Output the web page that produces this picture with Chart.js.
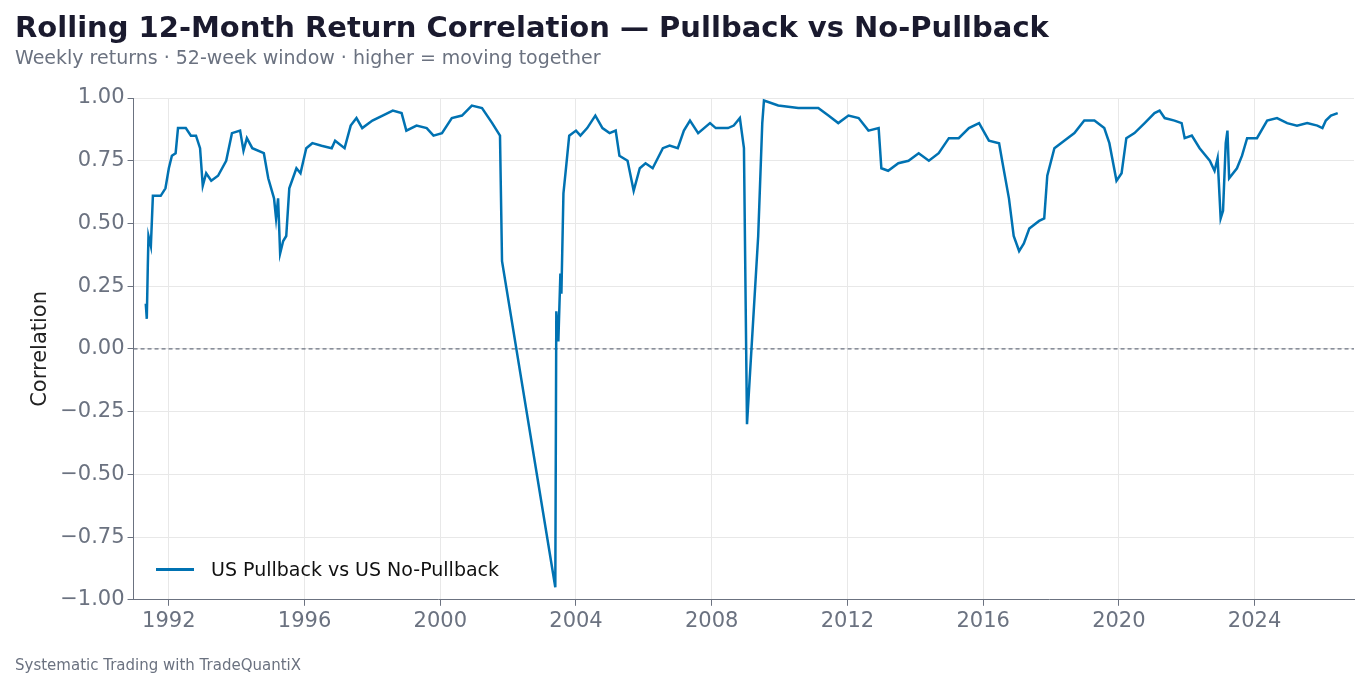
<!DOCTYPE html>
<html><head><meta charset="utf-8">
<script src="https://cdn.jsdelivr.net/npm/chart.js@4"></script>
<style>
body{margin:0;background:#fff;font-family:"DejaVu Sans",sans-serif;}
#wrap{position:relative;width:1368px;height:687px;}
#title{position:absolute;left:15px;top:10px;font-size:29px;font-weight:bold;color:#1a1a2e;}
#sub{position:absolute;left:15px;top:46px;font-size:19px;color:#6b7280;}
#foot{position:absolute;left:15px;top:656px;font-size:15px;color:#6b7280;}
#legend{position:absolute;left:156px;top:558px;font-size:19px;color:#111;display:flex;align-items:center;}
#legend span{display:inline-block;width:38px;height:3px;background:#0072B2;margin-right:17px;}
canvas{position:absolute;left:0;top:0;}
</style></head><body>
<div id="wrap">
<canvas id="c" width="1368" height="687"></canvas>
<div id="title">Rolling 12-Month Return Correlation — Pullback vs No-Pullback</div>
<div id="sub">Weekly returns · 52-week window · higher = moving together</div>
<div id="legend"><span></span>US Pullback vs US No-Pullback</div>
<div id="foot">Systematic Trading with TradeQuantiX</div>
</div>
<script>
/* global Chart */
const years = [1991.32,1991.35,1991.38,1991.4,1991.47,1991.53,1991.76,1991.9,1992.0,1992.09,1992.2,1992.27,1992.5,1992.65,1992.8,1992.92,1993.0,1993.1,1993.25,1993.45,1993.69,1993.86,1994.1,1994.2,1994.3,1994.46,1994.8,1994.93,1995.1,1995.16,1995.22,1995.28,1995.37,1995.46,1995.55,1995.76,1995.88,1996.05,1996.23,1996.5,1996.8,1996.9,1997.18,1997.36,1997.53,1997.7,1998.0,1998.3,1998.6,1998.86,1999.0,1999.3,1999.6,1999.8,2000.05,2000.34,2000.64,2000.93,2001.23,2001.53,2001.76,2001.82,2003.39,2003.42,2003.48,2003.54,2003.57,2003.63,2003.72,2003.8,2004.0,2004.13,2004.33,2004.57,2004.78,2004.99,2005.17,2005.28,2005.52,2005.7,2005.88,2006.05,2006.26,2006.56,2006.76,2007.0,2007.18,2007.36,2007.6,2007.95,2008.12,2008.48,2008.65,2008.83,2008.95,2009.04,2009.37,2009.49,2009.54,2009.96,2010.55,2011.14,2011.44,2011.73,2012.03,2012.33,2012.62,2012.92,2013.0,2013.2,2013.5,2013.8,2014.1,2014.4,2014.69,2014.99,2015.28,2015.58,2015.88,2016.17,2016.47,2016.56,2016.76,2016.9,2017.06,2017.2,2017.36,2017.65,2017.8,2017.89,2018.1,2018.39,2018.69,2018.98,2019.28,2019.57,2019.72,2019.93,2020.08,2020.22,2020.46,2020.76,2021.05,2021.2,2021.35,2021.64,2021.85,2021.94,2022.15,2022.38,2022.68,2022.82,2022.91,2023.0,2023.07,2023.15,2023.2,2023.25,2023.48,2023.63,2023.78,2024.07,2024.37,2024.66,2024.96,2025.25,2025.55,2025.85,2026.0,2026.1,2026.25,2026.45];
const corr = [0.18,0.12,0.33,0.45,0.41,0.61,0.61,0.64,0.72,0.77,0.78,0.88,0.88,0.85,0.85,0.80,0.65,0.70,0.67,0.69,0.75,0.86,0.87,0.79,0.84,0.80,0.78,0.68,0.60,0.52,0.60,0.38,0.43,0.45,0.64,0.72,0.70,0.80,0.82,0.81,0.80,0.83,0.80,0.89,0.92,0.88,0.91,0.93,0.95,0.94,0.87,0.89,0.88,0.85,0.86,0.92,0.93,0.97,0.96,0.90,0.85,0.35,-0.95,0.15,0.03,0.30,0.22,0.62,0.74,0.85,0.87,0.85,0.88,0.93,0.88,0.86,0.87,0.77,0.75,0.63,0.72,0.74,0.72,0.80,0.81,0.80,0.87,0.91,0.86,0.90,0.88,0.88,0.89,0.92,0.80,-0.30,0.45,0.90,0.99,0.97,0.96,0.96,0.93,0.90,0.93,0.92,0.87,0.88,0.72,0.71,0.74,0.75,0.78,0.75,0.78,0.84,0.84,0.88,0.90,0.83,0.82,0.75,0.60,0.45,0.39,0.42,0.48,0.51,0.52,0.69,0.80,0.83,0.86,0.91,0.91,0.88,0.82,0.67,0.70,0.84,0.86,0.90,0.94,0.95,0.92,0.91,0.90,0.84,0.85,0.80,0.75,0.71,0.76,0.52,0.55,0.82,0.87,0.68,0.72,0.77,0.84,0.84,0.91,0.92,0.90,0.89,0.90,0.89,0.88,0.91,0.93,0.94];
const xTicks = [1992,1996,2000,2004,2008,2012,2016,2020,2024];
const yTicks = [-1,-0.75,-0.5,-0.25,0,0.25,0.5,0.75,1];
const xMin = 1990.96, xMax = 2026.93;

new Chart("c", {
    type: 'line',
    data: {
        datasets: [{
            data: years.map((y, i) => ({x: y, y: corr[i]})),
            borderColor: '#0072B2',
            borderWidth: 2.5,
            pointRadius: 0,
            tension: 0
        }, {
            data: [{x: xMin, y: 0}, {x: xMax, y: 0}],
            borderColor: '#6b7280',
            borderWidth: 1.2,
            borderDash: [4, 3],
            pointRadius: 0
        }]
    },
    options: {
        responsive: false,
        animation: false,
        layout: {padding: {top: 98, left: 24, right: 14, bottom: 50}},
        plugins: {legend: {display: false}, tooltip: {enabled: false}},
        scales: {
            x: {
                type: 'linear', min: xMin, max: xMax,
                afterBuildTicks: s => { s.ticks = xTicks.map(v => ({value: v})); },
                ticks: {color: '#6b7280', font: {size: 21, family: 'DejaVu Sans'}, callback: v => String(v)},
                grid: {color: '#e8e8e8', drawTicks: true, tickColor: '#6b7280', tickLength: 6},
                border: {color: '#6b7280'}
            },
            y: {
                min: -1, max: 1,
                afterBuildTicks: s => { s.ticks = yTicks.map(v => ({value: v})); },
                ticks: {color: '#6b7280', font: {size: 21, family: 'DejaVu Sans'},
                    callback: v => (v < 0 ? '\u2212' : '') + Math.abs(v).toFixed(2)},
                grid: {color: '#e8e8e8', tickColor: '#6b7280', tickLength: 6},
                border: {color: '#6b7280'},
                title: {display: true, text: 'Correlation', color: '#222', font: {size: 21, family: 'DejaVu Sans'}}
            }
        }
    }
});
</script>
</body></html>
